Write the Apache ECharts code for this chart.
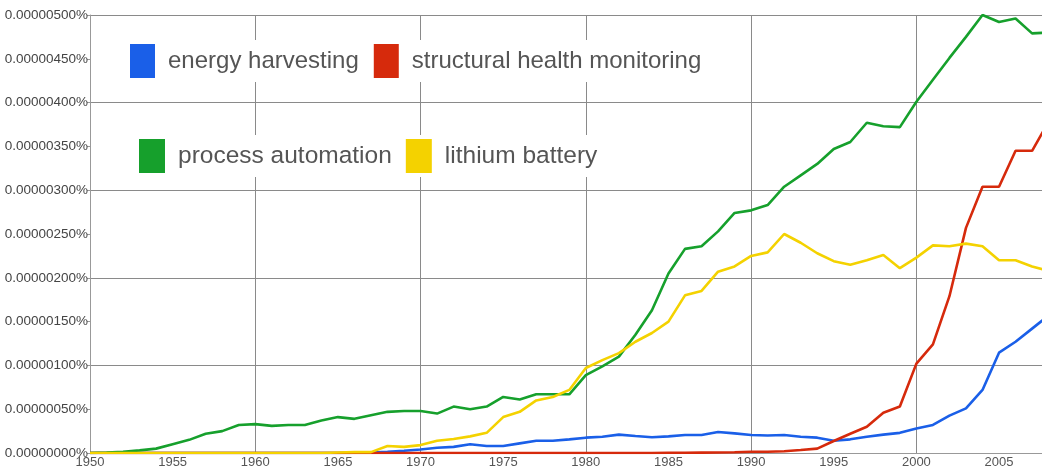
<!DOCTYPE html>
<html>
<head>
	<meta charset="utf-8">
	<title>ngram</title>
	<script src="https://cdn.jsdelivr.net/npm/echarts@6/dist/echarts.min.js"></script>
	<style>
		html, body { margin: 0; padding: 0; background: #fff; }
		#chart { width: 1042px; height: 471px; }
	</style>
</head>
<body>
	<div id="chart"></div>
	<script>
		// values are in units of 1e-8 percent
		const years = [
			1950,1951,1952,1953,1954,1955,1956,1957,1958,1959,
			1960,1961,1962,1963,1964,1965,1966,1967,1968,1969,
			1970,1971,1972,1973,1974,1975,1976,1977,1978,1979,
			1980,1981,1982,1983,1984,1985,1986,1987,1988,1989,
			1990,1991,1992,1993,1994,1995,1996,1997,1998,1999,
			2000,2001,2002,2003,2004,2005,2006,2007,2008
		];
		const energyHarvesting = [
			0,0,0,0,0,0,0,0,0,0,
			0,0,0,0,0,0,0.3,0.5,1.5,2.6,
			4,6,7,10,8,8,11,14,14,15.6,
			17.5,18.6,21,19.4,18,19,20.5,20.5,24,22.4,
			20.5,20,20.5,18.6,17.5,14,15.6,18.6,21,23,
			28,32,42.6,51,72,114.5,127,142,157
		];
		const structuralHealth = [
			0,0,0,0,0,0,0,0,0,0,
			0,0,0,0,0,0,0,0,0,0,
			0,0,0,0,0,0,0,0,0,0,
			0,0,0,0,0,0.2,0.3,0.4,0.5,0.8,
			1.5,1.5,2,3.4,5,13.7,22,30,46,53,
			102,124,179,257,304,304,345,345,378
		];
		const processAutomation = [
			0,0.5,1.5,3,5,10,15,22,25,32,
			33,31,32,32,37,41,39,43,47,48,
			48,45,53,50,53,64,61,67,67,67,
			89,99,110,135,163,205,233,236,253,274,
			277,283,304,317,330,347,355,377,373,372,
			401,426,451,475,500,492,496,479,480
		];
		const lithiumBattery = [
			0,0,0,0,0,0,0,0,0,0,
			0,0,0,0,0,0.5,1,1,8,7,
			9,14,16,19,23,41,47,60,64,72,
			97,106,114,127,137,150,180,185,207,213,
			225,229,250,240,228,219,215,220,226,211,
			223,237,236,239,236,220,220,213,208
		];

		const seriesDefs = [
			{ name: "energy harvesting", values: energyHarvesting, color: "#1a5fe8" },
			{ name: "structural health monitoring", values: structuralHealth, color: "#d62a0c" },
			{ name: "process automation", values: processAutomation, color: "#16a02c" },
			{ name: "lithium battery", values: lithiumBattery, color: "#f4d200" }
		];

		const chart = echarts.init(document.getElementById("chart"));

		const legendText = {
			fontFamily: "Liberation Sans, Arial, sans-serif",
			fontSize: 24,
			color: "#555",
			padding: [0, 0, 0, 8]
		};

		const option = {
			animation: false,
			backgroundColor: "#fff",
			grid: { left: 90, top: 15, right: 0, bottom: 18, containLabel: false },
			legend: [
				{
					data: ["energy harvesting", "structural health monitoring"],
					left: 124, top: 40,
					orient: "horizontal",
					icon: "rect",
					itemWidth: 25, itemHeight: 34, itemGap: 15,
					padding: [4, 6],
					backgroundColor: "#fff",
					textStyle: legendText
				},
				{
					data: ["process automation", "lithium battery"],
					left: 133, top: 135,
					orient: "horizontal",
					icon: "rect",
					itemWidth: 26, itemHeight: 34, itemGap: 14,
					padding: [4, 6],
					backgroundColor: "#fff",
					textStyle: Object.assign({}, legendText, { fontSize: 24.5 })
				}
			],
			xAxis: [
				{
					type: "value", min: 1950, max: 2007.6, interval: 5,
					axisLine: { show: true, lineStyle: { color: "#999" } },
					axisTick: { show: false },
					splitLine: { show: false },
					axisLabel: {
						showMaxLabel: false, margin: 3,
						color: "#555", fontSize: 13,
						fontFamily: "Liberation Sans, Arial, sans-serif",
						formatter: function (v) { return String(v); }
					}
				},
				{
					type: "value", min: 1950, max: 2007.6, interval: 10,
					position: "bottom",
					axisLine: { show: false }, axisTick: { show: false }, axisLabel: { show: false },
					splitLine: { show: true, lineStyle: { color: "#8a8a8a", width: 1 } }
				}
			],
			yAxis: [
				{
					type: "value", min: 0, max: 500, interval: 50,
					axisLine: { show: true, lineStyle: { color: "#999" } },
					axisTick: { show: true, length: 3, lineStyle: { color: "#999" } },
					splitLine: { show: false },
					axisLabel: {
						margin: 2, color: "#444", fontSize: 13.5,
						fontFamily: "Liberation Sans, Arial, sans-serif",
						formatter: function (v) { return (v / 1e8).toFixed(8) + "%"; }
					}
				},
				{
					type: "value", min: 0, max: 500, interval: 100,
					position: "left",
					axisLine: { show: false }, axisTick: { show: false }, axisLabel: { show: false },
					splitLine: { show: true, lineStyle: { color: "#8a8a8a", width: 1 } }
				}
			],
			series: seriesDefs.map(function (s) {
				return {
					name: s.name,
					type: "line",
					xAxisIndex: 0, yAxisIndex: 0,
					symbol: "none",
					color: s.color,
					itemStyle: { color: s.color },
					lineStyle: { color: s.color, width: 2.6 },
					data: years.map(function (y, i) { return [y, s.values[i]]; })
				};
			})
		};
		chart.setOption(option);
	</script>
</body>
</html>
